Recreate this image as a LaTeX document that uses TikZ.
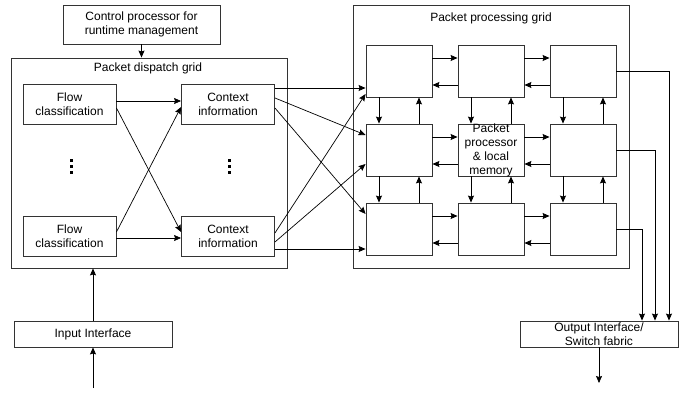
\documentclass[tikz,border=0pt]{standalone}
\usepackage{fontspec}
\setmainfont{Liberation Sans}
\usetikzlibrary{arrows.meta, positioning, calc}

\begin{document}
\begin{tikzpicture}[
    x=1pt, y=-1pt,
    font=\fontsize{12}{14}\selectfont,
    box/.style={draw=black!80, line width=0.9pt, fill=white, align=center, inner sep=0pt},
    pcell/.style={box, minimum width=66pt, minimum height=52pt},
    gridbox/.style={draw=black!80, line width=0.9pt, inner sep=0pt},
    arrow/.style={-{Stealth[length=7pt, width=6pt, inset=1pt]}, line width=0.7pt}
]
    \useasboundingbox (0,0) rectangle (694,393);

    % Control processor
    \node[box, minimum width=157pt, minimum height=39pt] (ctrl) at (141.5,24.5) {Control processor for\\runtime management};

    % Packet dispatch grid
    \node[gridbox, minimum width=276pt, minimum height=210pt] (dispatch) at (149,163) {};
    \node (dtitle) at (148,68) {Packet dispatch grid};
    \node[box, minimum width=93pt, minimum height=40pt] (flow1) at (69.5,104) {Flow\\classification};
    \node[box, minimum width=93pt, minimum height=40pt] (flow2) at (69.5,236) {Flow\\classification};
    \node[box, minimum width=93pt, minimum height=40pt] (ctx1) at (228,104) {Context\\information};
    \node[box, minimum width=93pt, minimum height=40pt] (ctx2) at (228,236) {Context\\information};

    % vertical dots
    \coordinate (fdots) at (71,167);
    \coordinate (cdots) at (229,167);
    \foreach \d in {-6,0,6} {
        \fill ($(fdots)+(-1.5,\d-1.5)$) rectangle +(3,3);
        \fill ($(cdots)+(-1.5,\d-1.5)$) rectangle +(3,3);
    }

    \draw[arrow] ([yshift=3pt]flow1.east) -- ([yshift=3pt]ctx1.west);
    \draw[arrow] ([yshift=-4pt]flow1.east) -- ([yshift=4pt]ctx2.west);
    \draw[arrow] ([yshift=4pt]flow2.east) -- ([yshift=-3pt]ctx1.west);
    \draw[arrow] ([yshift=-2pt]flow2.east) -- ([yshift=-2pt]ctx2.west);

    % Input side
    \node[box, minimum width=158pt, minimum height=26pt] (inif) at (93,334) {Input Interface};
    \coordinate (inflow) at (93,388);
    \draw[arrow] (inflow) -- (inif.south);
    \draw[arrow] (inif.north) -- (inif.north |- dispatch.south);
    \draw[arrow] (ctrl.south) -- (ctrl.south |- dispatch.north);

    % Packet processing grid
    \node[gridbox, minimum width=276pt, minimum height=263pt] (procgrid) at (491,136.5) {};
    \node (ptitle) at (491,18.5) {Packet processing grid};
    \foreach \r/\y in {1/71, 2/150, 3/229}
        \foreach \c/\x in {1/399, 2/491, 3/583}
            \node[pcell] (c\r\c) at (\x,\y) {};
    \node[align=center] (pmtext) at (c22.center) {Packet\\processor\\\& local\\memory};

    % Links inside the grid
    \foreach \r in {1,2,3}
        \foreach \a/\b in {1/2, 2/3} {
            \draw[arrow] ([yshift=13pt]c\r\a.east) -- ([yshift=13pt]c\r\b.west);
            \draw[arrow] ([yshift=-14pt]c\r\b.west) -- ([yshift=-14pt]c\r\a.east);
        }
    \foreach \c in {1,2,3}
        \foreach \a/\b in {1/2, 2/3} {
            \draw[arrow] ([xshift=-20pt]c\a\c.south) -- ([xshift=-20pt]c\b\c.north);
            \draw[arrow] ([xshift=20pt]c\b\c.north) -- ([xshift=20pt]c\a\c.south);
        }

    % Context information to grid
    \draw[arrow] ([yshift=16pt]ctx1.east) -- ([yshift=-17pt]c11.west);
    \draw[arrow] ([yshift=6pt]ctx1.east) -- ([yshift=15pt]c21.west);
    \draw[arrow] ([yshift=-4pt]ctx1.east) -- ([yshift=15pt]c31.west);
    \draw[arrow] ([yshift=3pt]ctx2.east) -- ([yshift=-23pt]c11.west);
    \draw[arrow] ([yshift=-6pt]ctx2.east) -- ([yshift=-14pt]c21.west);
    \draw[arrow] ([yshift=-13pt]ctx2.east) -- ([yshift=-20pt]c31.west);

    % Output side
    \node[box, minimum width=158pt, minimum height=26pt] (outif) at (599,334) {Output Interface/\\Switch fabric};
    \coordinate (outflow) at (599,383);
    \draw[arrow] (outif.south) -- (outflow);
    \draw[arrow] (c13.east) -| ([xshift=70pt]outif.north);
    \draw[arrow] (c23.east) -| ([xshift=56pt]outif.north);
    \draw[arrow] (c33.east) -| ([xshift=43pt]outif.north);

\end{tikzpicture}
\end{document}
